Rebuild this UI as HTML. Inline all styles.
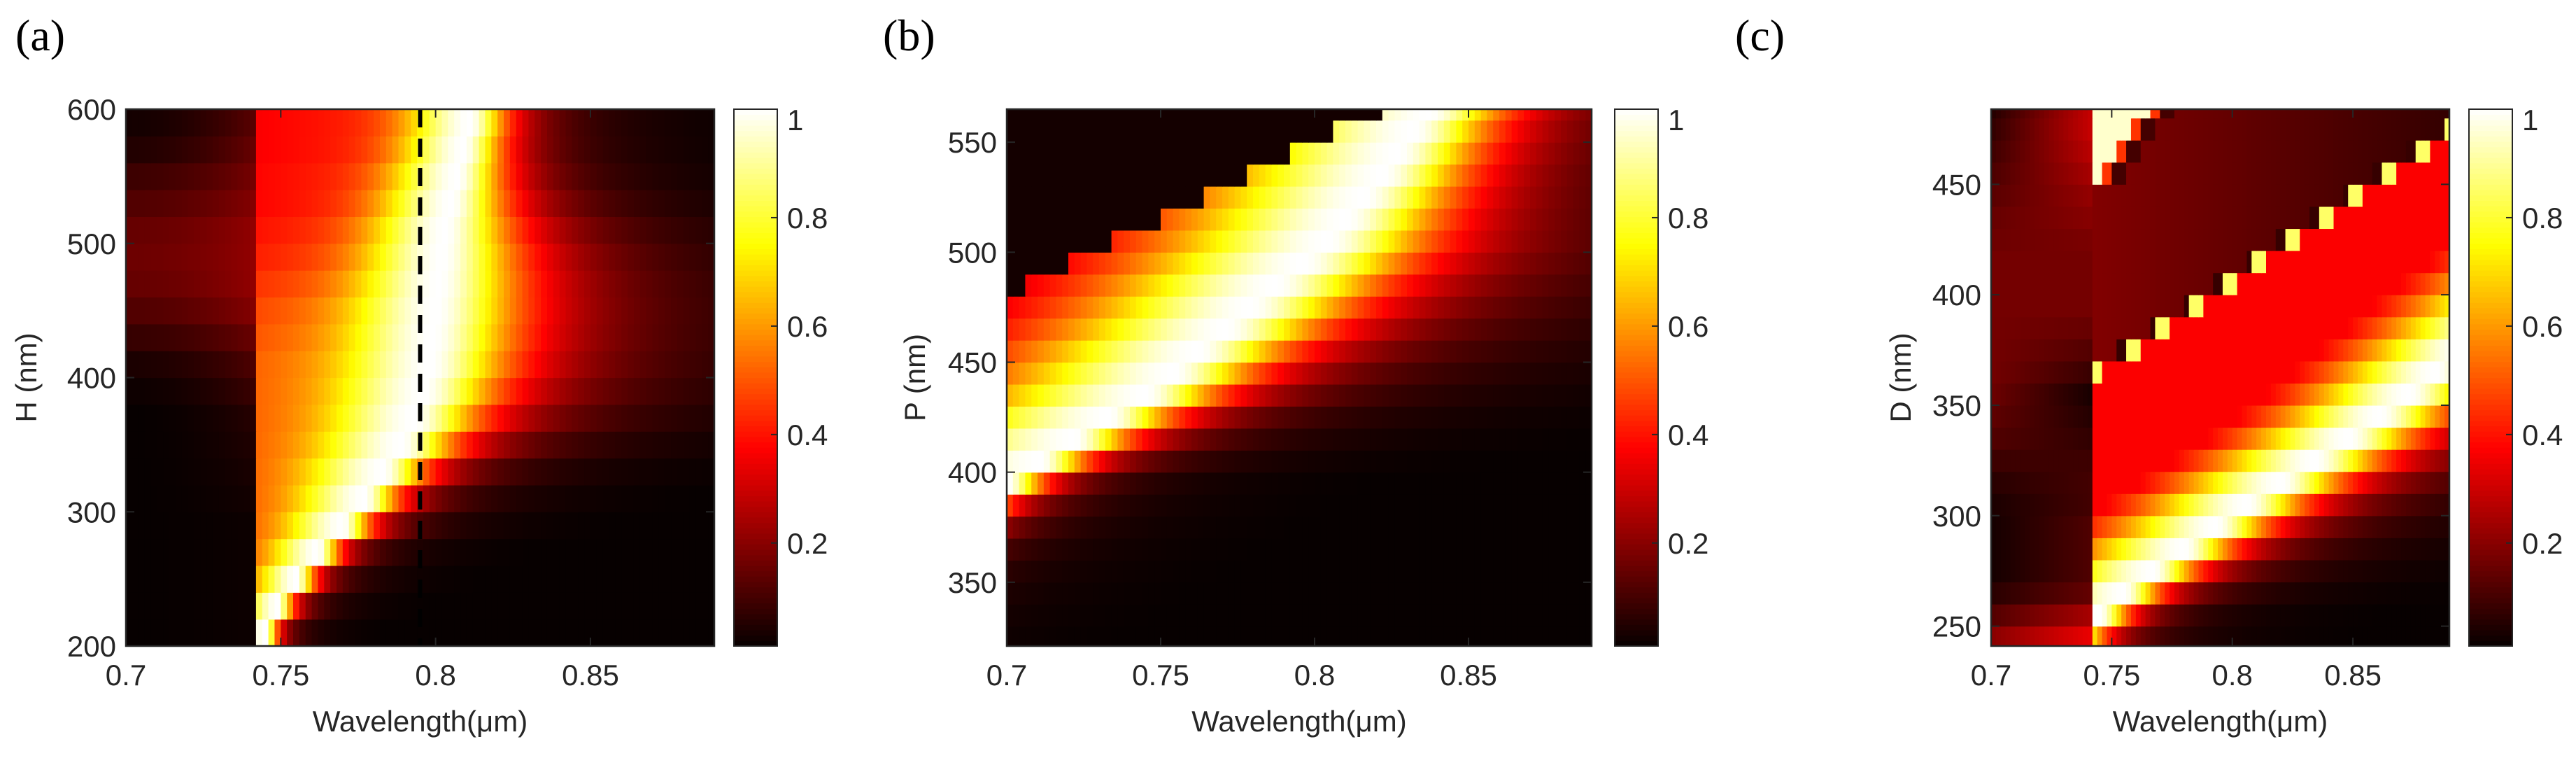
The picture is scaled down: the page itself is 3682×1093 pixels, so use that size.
<!DOCTYPE html>
<html><head><meta charset="utf-8"><style>
html,body{margin:0;padding:0;background:#fff;}
svg{display:block;}
text{font-family:"Liberation Sans",sans-serif;fill:#262626;}
.lbl{font-family:"Liberation Serif",serif;fill:#000;}
</style></head><body>
<svg id="fig" width="3682" height="1093" viewBox="0 0 3682 1093" xmlns="http://www.w3.org/2000/svg">
<rect width="3682" height="1093" fill="#fff"/>
</svg>
<script>
// ---- shared axis data ----
const xTicks = [0.7, 0.75, 0.8, 0.85];
const xTickLabels = ["0.7", "0.75", "0.8", "0.85"];
const cbTicks = [0.2, 0.4, 0.6, 0.8, 1];
const cbTickLabels = ["0.2", "0.4", "0.6", "0.8", "1"];
// ---- panel (a): rows H (nm) ----
const aRows = [210,230,250,270,290,310,330,350,370,390,410,430,450,470,490,510,530,550,570,590];
const aCenter = [0.745,0.749,0.755,0.762,0.770,0.777,0.783,0.789,0.793,0.796,0.798,0.799,0.800,0.801,0.802,0.803,0.805,0.807,0.809,0.811];
const aRightW = [0.004,0.005,0.006,0.007,0.009,0.011,0.014,0.018,0.022,0.025,0.027,0.028,0.028,0.027,0.025,0.022,0.018,0.015,0.013,0.012];
const aLeftW = [0.004,0.007,0.010,0.013,0.016,0.019,0.022,0.024,0.025,0.026,0.026,0.026,0.026,0.025,0.024,0.023,0.022,0.021,0.020,0.020];
const aEdgeLevel = [0.9,0.7,0.55,0.52,0.52,0.52,0.52,0.52,0.52,0.52,0.52,0.5,0.48,0.45,0.42,0.4,0.38,0.38,0.37,0.37];
const aBgEdge = [0.02,0.02,0.02,0.02,0.02,0.03,0.04,0.05,0.06,0.09,0.12,0.16,0.2,0.22,0.22,0.22,0.2,0.18,0.16,0.14];
const aBgFar = [0.01,0.01,0.01,0.01,0.01,0.01,0.01,0.01,0.01,0.02,0.04,0.08,0.12,0.15,0.16,0.15,0.12,0.09,0.05,0.03];
const aYTicks = [200,300,400,500,600];
const aDashX = [0.795];
// ---- panel (b): rows P (nm) ----
const bRows = [325,335,345,355,365,375,385,395,405,415,425,435,445,455,465,475,485,495,505,515,525,535,545,555,565];
const bCenter = [0.620,0.632,0.643,0.654,0.665,0.677,0.688,0.700,0.711,0.722,0.733,0.745,0.754,0.762,0.771,0.779,0.787,0.796,0.804,0.810,0.816,0.822,0.827,0.832,0.837];
const bCut = [0.70,0.70,0.70,0.70,0.70,0.70,0.70,0.70,0.70,0.70,0.70,0.70,0.70,0.70,0.70,0.70,0.707,0.720,0.735,0.750,0.764,0.779,0.793,0.807,0.822];
const bRightW = [0.012,0.012,0.012,0.012,0.012,0.012,0.012,0.012,0.015,0.018,0.021,0.024,0.027,0.030,0.032,0.034,0.035,0.035,0.034,0.032,0.030,0.028,0.027,0.026,0.025];
const bYTicks = [350,400,450,500,550];
// ---- panel (c): rows D (nm) ----
const cRows = [245,255,265,275,285,295,305,315,325,335,345,355,365,375,385,395,405,415,425,435,445,455,465,475,485];
const cCenter = [0.735,0.745,0.755,0.767,0.780,0.793,0.806,0.820,0.834,0.848,0.861,0.873,0.884,0.895,0.906,0.917,0.928,0.940,0.950,0.960,0.970,0.980,0.990,1.000,1.010];
const cRightW = [0.012,0.012,0.015,0.018,0.020,0.022,0.024,0.026,0.028,0.028,0.028,0.028,0.028,0.028,0.028,0.028,0.028,0.028,0.028,0.028,0.028,0.028,0.028,0.028,0.028];
const cBase = [0.25,0.28,0.3,0.33,0.35,0.36,0.37,0.37,0.37,0.37,0.37,0.37,0.37,0.37,0.37,0.37,0.37,0.37,0.37,0.37,0.37,0.37,0.37,0.37,0.37];
const cUp = [0.18,0.18,0.18,0.18,0.18,0.18,0.18,0.18,0.18,0.18,0.18,0.18,0.18,0.19,0.19,0.19,0.19,0.19,0.19,0.19,0.19,0.19,0.19,0.19,0.19];
const cBgEdge = [0.35,0.25,0.15,0.12,0.12,0.12,0.1,0.1,0.09,0.07,0.05,0.03,0.08,0.12,0.15,0.17,0.17,0.17,0.18,0.2,0.22,0.25,0.28,0.3,0.3];
const cBgFar = [0.2,0.12,0.06,0.03,0.03,0.03,0.04,0.06,0.09,0.12,0.14,0.16,0.17,0.17,0.17,0.17,0.17,0.17,0.16,0.15,0.13,0.11,0.09,0.07,0.05];
const cYTicks = [250,300,350,400,450];

const NS = "http://www.w3.org/2000/svg";
const svg = document.getElementById("fig");
const EDGE = 0.743, XMIN = 0.70, XMAX = 0.89, DX = 0.002;
function mk(tag, attrs, parent){ const e=document.createElementNS(NS,tag); for(const k in attrs) e.setAttribute(k,attrs[k]); (parent||svg).appendChild(e); return e; }
function clamp(v){ return Math.max(0,Math.min(1,v)); }
function hot(v){ v=clamp(v); const r=clamp(v/0.375), g=clamp((v-0.375)/0.375), b=clamp((v-0.75)/0.25); return `rgb(${Math.round(r*255)},${Math.round(g*255)},${Math.round(b*255)})`; }
function lor(d,g){ return 1/(1+(d/g)*(d/g)); }

function valA(i,x){
  if(x<EDGE){ const t=(x-XMIN)/(EDGE-XMIN); return aBgFar[i]+(aBgEdge[i]-aBgFar[i])*t*t; }
  const c=aCenter[i];
  if(x>=c) return lor(x-c,aRightW[i]);
  const L=aEdgeLevel[i], w=aLeftW[i];
  const d=(c-x)/w;
  const ramp=L+0.1*(x-EDGE)/Math.max(0.001,c-EDGE);
  return ramp+(1-ramp)*Math.exp(-d*d);
}
function valB(i,x){
  if(x<bCut[i]) return 0.03;
  const c=bCenter[i];
  if(x<c) return lor(c-x,0.06);
  return lor(x-c,bRightW[i]);
}
function valC(i,x){
  const D=cRows[i];
  if(x<EDGE){ const t=(x-XMIN)/(EDGE-XMIN); return cBgFar[i]+(cBgEdge[i]-cBgFar[i])*t; }
  const tri = EDGE+(D-450)/1590;
  if(D>450 && x<tri) return 0.95;
  if(D>450 && x<tri+0.004) return 0.45;
  if(D>450 && x<tri+0.01) return 0.1;
  const s = D<=365 ? EDGE : 0.745+(D-365)/750;
  if(D>360 && Math.abs(x-s)<0.003) return 0.85;
  if(D>360 && x<s && s-x<0.006) return 0.08;
  if(x<s) return cUp[i]*(1-0.6*(x-EDGE)/0.147);
  const c=cCenter[i];
  if(x>=c) return lor(x-c,cRightW[i]);
  return Math.max(cBase[i], lor(c-x,0.045));
}

function panel(p){
  const g=mk("g",{});
  
  
  const xs=v=>p.L+(v-XMIN)/(XMAX-XMIN)*(p.R-p.L);
  const ys=v=>p.B-(v-p.ymin)/(p.ymax-p.ymin)*(p.B-p.T);
  const hm=mk("g",{},g);
  
  
  for(let i=0;i<p.rows.length;i++){
    const r0=Math.max(p.ymin,p.rows[i]-p.h/2), r1=Math.min(p.ymax,p.rows[i]+p.h/2);
    const y0=ys(r1), y1=ys(r0);
    for(let x=XMIN;x<XMAX-1e-9;x+=DX){
      const xa=xs(x), xb=xs(Math.min(XMAX,x+DX));
      const v=p.fn(i,x+DX/2);
      const r=mk("rect",{x:xa.toFixed(2),y:y0.toFixed(2),width:(xb-xa+0.6).toFixed(2),height:(y1-y0+0.6).toFixed(2),fill:hot(Math.max(0.01,v))},hm);
      
      
    }
  }
  if(p.dash){
    for(const dx of p.dash){
      const l=mk("line",{x1:xs(dx),x2:xs(dx),y1:p.T,y2:p.B,stroke:"#000","stroke-width":6,"stroke-dasharray":"26 16"},g);
      
      
    }
  }
  const box=mk("rect",{x:p.L,y:p.T,width:p.R-p.L,height:p.B-p.T,fill:"none",stroke:"#262626","stroke-width":2.5},g);
  
  
  xTicks.forEach((t,k)=>{
    const X=xs(t);
    const tk=mk("path",{d:`M${X},${p.B}v-12M${X},${p.T}v12`,stroke:"#262626","stroke-width":2},g);
    
    
    const tx=mk("text",{x:X,y:p.B+56,"text-anchor":"middle","font-size":42},g);
    tx.textContent=xTickLabels[k];
    
    
  });
  p.yt.forEach(t=>{
    const Y=ys(t);
    const tk=mk("path",{d:`M${p.L},${Y}h12M${p.R},${Y}h-12`,stroke:"#262626","stroke-width":2},g);
    
    
    const tx=mk("text",{x:p.L-14,y:Y+15,"text-anchor":"end","font-size":42},g);
    tx.textContent=String(t);
    
    
  });
  const xt=mk("text",{x:(p.L+p.R)/2,y:p.B+122,"text-anchor":"middle","font-size":42},g);
  xt.textContent="Wavelength(\u03bcm)";
  
  
  const yt=mk("text",{x:0,y:0,"text-anchor":"middle","font-size":42,transform:`translate(${p.ylx},${(p.T+p.B)/2}) rotate(-90)`},g);
  yt.textContent=p.ylabel;
  
  
  const pl=mk("text",{x:p.lx,y:72,"font-size":64,"class":"lbl"},g);
  pl.textContent=p.letter;
  
  
  const cb=mk("g",{},g);
  
  
  const N=100, H=p.B-p.T, cmin=0.01;
  for(let k=0;k<N;k++){
    const v0=cmin+(1-cmin)*k/N;
    const y=p.B-H*(k+1)/N;
    const r=mk("rect",{x:p.cbL,y:y.toFixed(2),width:p.cbR-p.cbL,height:(H/N+0.6).toFixed(2),fill:hot(v0+(1-cmin)/(2*N))},cb);
    
    
  }
  const cbb=mk("rect",{x:p.cbL,y:p.T,width:p.cbR-p.cbL,height:H,fill:"none",stroke:"#262626","stroke-width":2},cb);
  
  
  cbTicks.forEach((t,k)=>{
    const Y=p.B-(t-cmin)/(1-cmin)*H;
    const tk=mk("path",{d:`M${p.cbR},${Y}h-9`,stroke:"#262626","stroke-width":2},cb);
    
    
    const tx=mk("text",{x:p.cbR+14,y:Math.max(Y+15,p.T+30),"font-size":42},cb);
    tx.textContent=cbTickLabels[k];
    
    
  });
}

panel({name:"a",letter:"(a)",lx:22,L:180,R:1021,T:156,B:923,cbL:1049,cbR:1111,ymin:200,ymax:600,rows:aRows,h:20,fn:valA,yt:aYTicks,ylabel:"H (nm)",ylx:52,dash:aDashX});
panel({name:"b",letter:"(b)",lx:1262,L:1439,R:2275,T:156,B:923,cbL:2308,cbR:2370,ymin:321,ymax:565,rows:bRows,h:10,fn:valB,yt:bYTicks,ylabel:"P (nm)",ylx:1322});
panel({name:"c",letter:"(c)",lx:2480,L:2846,R:3501,T:156,B:923,cbL:3529,cbR:3591,ymin:241,ymax:484,rows:cRows,h:10,fn:valC,yt:cYTicks,ylabel:"D (nm)",ylx:2731});
</script>
</body></html>
